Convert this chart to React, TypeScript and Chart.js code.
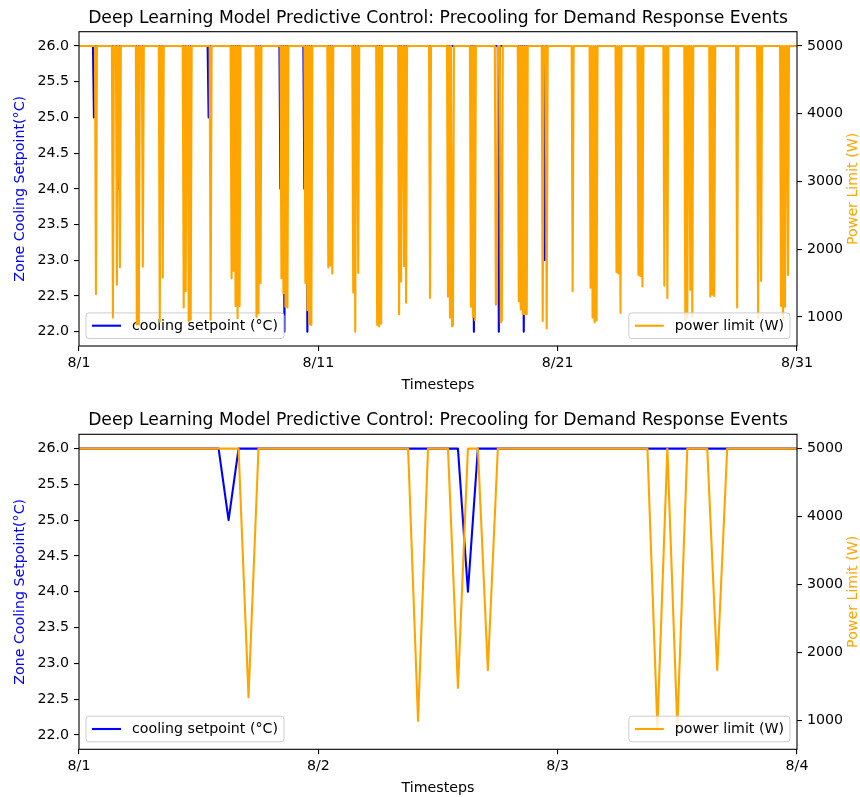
import React, { useEffect, useRef } from 'react';
import { Chart, registerables } from 'chart.js';

Chart.register(...registerables);

// ---------- text ----------
const TITLE = 'Deep Learning Model Predictive Control: Precooling for Demand Response Events';
const X_LABEL = 'Timesteps';
const LEFT_LABEL = 'Zone Cooling Setpoint(°C)';
const RIGHT_LABEL = 'Power Limit (W)';
const SETPOINT_NAME = 'cooling setpoint (°C)';
const POWER_NAME = 'power limit (W)';

// ---------- data (hourly timesteps from 8/1 00:00) ----------
const setpointBase = 26;
const setpointLastHour = 489;
const setpointDipHours = [15, 39, 130, 202, 206, 226, 229, 396, 421, 446, 467];
const setpointDipValues = [25, 24, 25, 24, 22, 24, 22, 22, 22, 22, 23];

const powerBase = 5000;
const powerLastHour = 720;
const powerDipHours = [
  17,
  34, 38, 41,
  58, 60, 64,
  81, 84,
  105, 107, 110, 112,
  132,
  153, 155, 157, 159, 161,
  178, 180, 182,
  203, 205, 207, 209,
  227, 229, 231, 233,
  250, 252, 254,
  275, 277, 280,
  299, 301, 303,
  321, 323, 326, 328,
  352,
  370, 372, 374, 375,
  393, 395, 397,
  418, 419, 423, 424,
  441, 443, 445, 447, 449,
  465, 469,
  495,
  513, 515, 517, 519,
  539, 541, 543,
  561, 563, 565,
  587, 590,
  608, 610, 613, 615,
  633, 635, 637,
  660,
  681, 684,
  704, 706, 708, 711,
];
const powerDipValues = [
  1340,
  990, 1475, 1735,
  890, 890, 1740,
  930, 1580,
  1140, 1380, 940, 960,
  960,
  1570, 1680, 1160, 980, 1160,
  1000, 1050, 1500,
  1570, 1350, 1150, 1140,
  1500, 1100, 890, 880,
  1730, 1760, 1640,
  1360, 782, 1650,
  880, 860, 900,
  1040, 1525, 1750, 1210,
  1280,
  1300, 990, 860, 880,
  1150, 1000, 950,
  1180, 1200, 920, 950,
  1230, 1110, 1040, 1040, 1040,
  940, 830,
  1380,
  1430, 990, 920, 950,
  1660, 1640, 1060,
  1620, 1600, 1450,
  1460, 1280,
  950, 1000, 1400, 1000,
  1300, 1330, 1310,
  1140,
  980, 1530,
  1160, 950, 1150, 1620,
];

// ---------- axes ----------
const monthTicks = [0, 240, 480, 720];
const monthTickLabels = ['8/1', '8/11', '8/21', '8/31'];
const zoomTicks = [0, 24, 48, 72];
const zoomTickLabels = ['8/1', '8/2', '8/3', '8/4'];
const setpointTicks = [22, 22.5, 23, 23.5, 24, 24.5, 25, 25.5, 26];
const powerTicks = [1000, 2000, 3000, 4000, 5000];
const setpointRange = [21.8, 26.2];
const powerRange = [571, 5211];

// ---------- style ----------
const FONT = "'DejaVu Sans', 'Liberation Sans', sans-serif";
const BLUE = '#0000ff';
const ORANGE = '#ffa500';
const ORANGE_TEXT = '#ffa500';
const PAGE_W = 860;
const AREA_LEFT = 79;
const AREA_RIGHT = 797;
const TICK_SIZE = 14.2;

type Pt = { x: number; y: number };

function buildSeries(base: number, lastHour: number, hours: number[], values: number[]): Pt[] {
  const dips = new Map<number, number>();
  hours.forEach((h, i) => dips.set(h, values[i]));
  const pts: Pt[] = [];
  for (let h = 0; h <= lastHour; h++) {
    pts.push({ x: h, y: dips.has(h) ? (dips.get(h) as number) : base });
  }
  return pts;
}

const setpointSeries = buildSeries(setpointBase, setpointLastHour, setpointDipHours, setpointDipValues);
const powerSeries = buildSeries(powerBase, powerLastHour, powerDipHours, powerDipValues);

function roundRectPath(ctx: CanvasRenderingContext2D, x: number, y: number, w: number, h: number, r: number) {
  ctx.beginPath();
  ctx.moveTo(x + r, y);
  ctx.lineTo(x + w - r, y);
  ctx.arcTo(x + w, y, x + w, y + r, r);
  ctx.lineTo(x + w, y + h - r);
  ctx.arcTo(x + w, y + h, x + w - r, y + h, r);
  ctx.lineTo(x + r, y + h);
  ctx.arcTo(x, y + h, x, y + h - r, r);
  ctx.lineTo(x, y + r);
  ctx.arcTo(x, y, x + r, y, r);
  ctx.closePath();
}

function drawLegend(ctx: CanvasRenderingContext2D, a: any, side: 'left' | 'right', text: string, color: string) {
  ctx.save();
  ctx.font = `${TICK_SIZE}px ${FONT}`;
  const tw = ctx.measureText(text).width;
  const w = 6 + 29 + 11 + tw + 6;
  const h = 25.6;
  const x = side === 'left' ? a.left + 7 : a.right - 7 - w;
  const y = a.bottom - 7.5 - h;
  roundRectPath(ctx, x, y, w, h, 3);
  ctx.fillStyle = 'rgba(255,255,255,0.8)';
  ctx.fill();
  ctx.strokeStyle = '#cccccc';
  ctx.lineWidth = 1;
  ctx.stroke();
  ctx.beginPath();
  ctx.moveTo(x + 6, y + h / 2);
  ctx.lineTo(x + 35, y + h / 2);
  ctx.strokeStyle = color;
  ctx.lineWidth = 2.1;
  ctx.stroke();
  ctx.fillStyle = '#000';
  ctx.textAlign = 'left';
  ctx.textBaseline = 'middle';
  ctx.fillText(text, x + 46, y + h / 2 + 0.5);
  ctx.restore();
}

const decorPlugin = {
  id: 'decor',
  afterDatasetDraw(chart: any, args: any) {
    if (args.index === 0) {
      drawLegend(chart.ctx, chart.chartArea, 'left', SETPOINT_NAME, BLUE);
    }
  },
  afterDraw(chart: any) {
    const ctx: CanvasRenderingContext2D = chart.ctx;
    const a = chart.chartArea;
    drawLegend(ctx, a, 'right', POWER_NAME, ORANGE);
    ctx.save();
    // frame
    ctx.strokeStyle = '#000';
    ctx.lineWidth = 1.1;
    ctx.strokeRect(a.left, a.top, a.right - a.left, a.bottom - a.top);
    // title
    ctx.fillStyle = '#000';
    ctx.font = `17.2px ${FONT}`;
    ctx.textAlign = 'center';
    ctx.textBaseline = 'alphabetic';
    ctx.fillText(TITLE, (a.left + a.right) / 2, a.top - 9);
    // x label
    ctx.font = `${TICK_SIZE}px ${FONT}`;
    ctx.fillText(X_LABEL, (a.left + a.right) / 2, a.bottom + 43);
    const mid = (a.top + a.bottom) / 2;
    // left y label
    ctx.save();
    ctx.translate(20.5, mid);
    ctx.rotate(-Math.PI / 2);
    ctx.textBaseline = 'middle';
    ctx.fillStyle = BLUE;
    ctx.fillText(LEFT_LABEL, 0, 0);
    ctx.restore();
    // right y label
    ctx.save();
    ctx.translate(853, mid);
    ctx.rotate(-Math.PI / 2);
    ctx.textBaseline = 'middle';
    ctx.fillStyle = ORANGE_TEXT;
    ctx.fillText(RIGHT_LABEL, 0, 0);
    ctx.restore();
    ctx.restore();
  },
};

type PanelProps = {
  height: number;
  areaTop: number;
  areaBottom: number;
  lastHour: number;
  xTicks: number[];
  xTickLabels: string[];
};

function Panel({ height, areaTop, areaBottom, lastHour, xTicks, xTickLabels }: PanelProps) {
  const ref = useRef<HTMLCanvasElement | null>(null);
  useEffect(() => {
    const canvas = ref.current;
    if (!canvas) return;
    const setpoint = setpointSeries.filter((p) => p.x <= lastHour);
    const power = powerSeries.filter((p) => p.x <= lastHour);
    const tickFont = { family: FONT, size: TICK_SIZE };
    const tickGrid = { drawOnChartArea: false, drawTicks: true, tickLength: 5, color: '#000', lineWidth: 1.1 };
    const chart = new Chart(canvas, {
      type: 'line',
      data: {
        datasets: [
          {
            label: SETPOINT_NAME,
            data: setpoint,
            yAxisID: 'y',
            borderColor: BLUE,
            backgroundColor: BLUE,
            borderWidth: 2.1,
            pointRadius: 0,
            tension: 0,
            fill: false,
            order: 2,
            borderJoinStyle: 'round',
          },
          {
            label: POWER_NAME,
            data: power,
            yAxisID: 'y1',
            borderColor: ORANGE,
            backgroundColor: ORANGE,
            borderWidth: 2.1,
            pointRadius: 0,
            tension: 0,
            fill: false,
            order: 1,
            borderJoinStyle: 'round',
          },
        ],
      } as any,
      options: {
        responsive: false,
        animation: false,
        parsing: false,
        normalized: true,
        events: [],
        layout: { padding: { top: areaTop, left: 0, right: 0, bottom: 0 } },
        plugins: {
          legend: { display: false },
          tooltip: { enabled: false },
          title: { display: false },
        },
        scales: {
          x: {
            type: 'linear',
            position: 'bottom',
            min: 0,
            max: lastHour,
            afterFit: (s: any) => {
              s.height = height - areaBottom;
            },
            afterBuildTicks: (s: any) => {
              s.ticks = xTicks.map((v) => ({ value: v }));
            },
            ticks: {
              callback: (v: any) => {
                const i = xTicks.indexOf(Number(v));
                return i >= 0 ? xTickLabels[i] : '';
              },
              font: tickFont,
              color: '#000',
              padding: 4,
              maxRotation: 0,
              autoSkip: false,
            },
            grid: tickGrid,
            border: { display: false },
          },
          y: {
            type: 'linear',
            position: 'left',
            min: setpointRange[0],
            max: setpointRange[1],
            afterFit: (s: any) => {
              s.width = AREA_LEFT;
            },
            afterBuildTicks: (s: any) => {
              s.ticks = setpointTicks.map((v) => ({ value: v }));
            },
            ticks: {
              callback: (v: any) => Number(v).toFixed(1),
              font: tickFont,
              color: '#000',
              padding: 5,
            },
            grid: tickGrid,
            border: { display: false },
          },
          y1: {
            type: 'linear',
            position: 'right',
            min: powerRange[0],
            max: powerRange[1],
            afterFit: (s: any) => {
              s.width = PAGE_W - AREA_RIGHT;
            },
            afterBuildTicks: (s: any) => {
              s.ticks = powerTicks.map((v) => ({ value: v }));
            },
            ticks: {
              callback: (v: any) => String(Math.round(Number(v))),
              font: tickFont,
              color: '#000',
              padding: 5,
            },
            grid: tickGrid,
            border: { display: false },
          },
        },
      } as any,
      plugins: [decorPlugin as any],
    });
    return () => chart.destroy();
  }, [height, areaTop, areaBottom, lastHour, xTicks, xTickLabels]);
  return (
    <canvas
      ref={ref}
      width={PAGE_W}
      height={height}
      style={{ display: 'block', width: PAGE_W, height }}
    />
  );
}

export default function App() {
  return (
    <div style={{ position: 'absolute', left: 0, top: 0, width: PAGE_W, height: 797, background: '#fff' }}>
      <Panel height={400} areaTop={31.7} areaBottom={346} lastHour={powerLastHour} xTicks={monthTicks} xTickLabels={monthTickLabels} />
      <Panel height={397} areaTop={34.3} areaBottom={349.3} lastHour={72} xTicks={zoomTicks} xTickLabels={zoomTickLabels} />
    </div>
  );
}
